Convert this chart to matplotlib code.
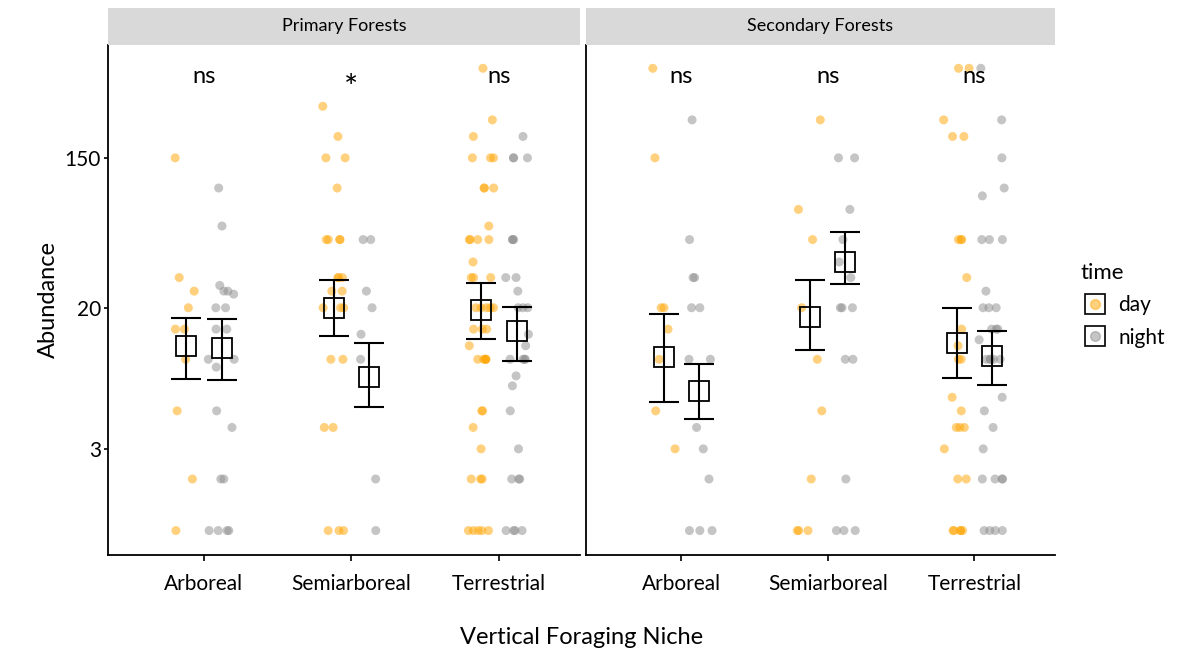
import matplotlib.pyplot as plt
import numpy as np
from matplotlib.lines import Line2D

plt.rcParams["font.family"] = ["Lato", "DejaVu Sans"]

niches = ["Arboreal", "Semiarboreal", "Terrestrial"]
forests = ["Primary Forests", "Secondary Forests"]
signif = [["ns", "*", "ns"], ["ns", "ns", "ns"]]

# raw abundances, [forest][niche]
day = [
    [[150, 30, 25, 20, 15, 15, 10, 5, 2, 1],
     [300, 200, 150, 150, 100, 50, 50, 50, 50, 30, 30, 30, 25, 25, 20, 20, 20, 10, 10, 4, 4, 1, 1, 1],
     [500, 250, 200, 150, 150, 150, 100, 100, 100, 60, 50, 50, 50, 50, 37, 30, 30, 30,
      20, 20, 20, 20, 20, 15, 15, 15, 12, 10, 10, 10, 10, 10, 5, 5, 4, 3, 2, 2, 2, 1, 1, 1, 1, 1]],
    [[500, 150, 20, 20, 15, 10, 5, 3],
     [250, 75, 50, 20, 10, 5, 2, 1, 1, 1],
     [500, 500, 250, 200, 200, 50, 50, 50, 30, 15, 12, 10, 10, 6, 5, 4, 4, 4, 3, 2, 2,
      1, 1, 1, 1, 1]],
]
night = [
    [[100, 60, 27, 25, 25, 24, 20, 20, 15, 15, 10, 10, 9, 5, 4, 2, 2, 1, 1, 1, 1],
     [50, 50, 25, 20, 14, 10, 2, 1],
     [200, 150, 150, 150, 50, 50, 50, 30, 30, 25, 20, 20, 20, 14, 12, 10, 10, 10, 10,
      8, 7, 5, 3, 2, 2, 2, 1, 1, 1, 1]],
    [[250, 50, 30, 30, 20, 20, 10, 10, 4, 3, 2, 1, 1, 1],
     [150, 150, 75, 50, 37, 30, 20, 20, 20, 10, 10, 2, 1, 1, 1],
     [500, 250, 150, 100, 90, 50, 50, 50, 25, 20, 20, 20, 15, 15, 15, 13, 10, 10, 10, 10,
      10, 6, 5, 4, 3, 2, 2, 2, 2, 1, 1, 1, 1]],
]
# group means with error bar limits (mean, low, high)
day_mean = [[(11.9, 7.7, 17.5), (20, 13.7, 29), (19.5, 13.2, 28)],
            [(10.3, 5.6, 18.4), (17.7, 11.3, 29), (12.4, 7.8, 20)]]
night_mean = [[(11.7, 7.6, 17.3), (7.9, 5.3, 12.4), (14.6, 9.8, 20.3)],
              [(6.5, 4.5, 9.4), (37, 27.5, 55), (10.5, 7.1, 14.7)]]

DAY_C, NIGHT_C = "#FFA500", "#8C8C8C"
rng = np.random.default_rng(3)

W, H = 1186, 654
fig = plt.figure(figsize=(W / 100, H / 100), dpi=100)
panels = [(108, 580), (586, 1055)]
top, bot = 45, 555

for f, (x0, x1) in enumerate(panels):
    ax = fig.add_axes([x0 / W, 1 - bot / H, (x1 - x0) / W, (bot - top) / H])
    ax.set_yscale("log")
    ax.set_ylim(0.72, 684)
    ax.set_xlim(0.35, 3.55)
    for k in range(3):
        xc = k + 1
        for vals, off, col in ((day[f][k], -0.12, DAY_C), (night[f][k], 0.12, NIGHT_C)):
            xs = xc + off + rng.uniform(-0.09, 0.09, len(vals))
            ax.scatter(xs, vals, s=42, color=col, alpha=0.5, edgecolors="none", zorder=2)
        for (m, lo, hi), off in ((day_mean[f][k], -0.12), (night_mean[f][k], 0.12)):
            ax.errorbar(xc + off, m, yerr=[[m - lo], [hi - m]], fmt="none", ecolor="black",
                        elinewidth=1.5, capsize=11, capthick=1.5, zorder=3)
            ax.plot(xc + off, m, marker="s", ms=15, mfc="none", mec="black", mew=1.3, zorder=4)
        sig = signif[f][k]
        ax.text(xc, 450 if sig == "ns" else 380, sig, ha="center", va="center",
                fontsize=17 if sig == "ns" else 24)
    ax.set_xticks([1, 2, 3])
    ax.set_xticklabels(niches, fontsize=15)
    ax.tick_params(axis="x", length=4, width=1.2, pad=10)
    for s in ("top", "right"):
        ax.spines[s].set_visible(False)
    ax.spines["bottom"].set_linewidth(1.3)
    ax.spines["left"].set_linewidth(1.3)
    ax.minorticks_off()
    if f == 0:
        ax.set_yticks([3, 20, 150])
        ax.set_yticklabels(["3", "20", "150"], fontsize=15)
        ax.tick_params(axis="y", length=3, width=1.2, pad=2)
        ax.set_ylabel("Abundance", fontsize=17)
    else:
        ax.set_yticks([])
    # facet strip
    sax = fig.add_axes([x0 / W, 1 - 45 / H, (x1 - x0) / W, 37 / H])
    sax.set_facecolor("#d9d9d9")
    sax.set_xticks([])
    sax.set_yticks([])
    for s in sax.spines.values():
        s.set_visible(False)
    sax.text(0.5, 0.5, forests[f], ha="center", va="center", fontsize=13,
             transform=sax.transAxes)

fig.text(582 / W, 1 - 638 / H, "Vertical Foraging Niche", ha="center", va="center", fontsize=17)

handles = [Line2D([], [], marker="o", ls="none", ms=7, color=DAY_C, alpha=0.5),
           Line2D([], [], marker="o", ls="none", ms=7, color=NIGHT_C, alpha=0.5)]
box = [Line2D([], [], marker="s", ls="none", ms=15, mfc="none", mec="black", mew=1.2)] * 2
leg = fig.legend([(b, h) for b, h in zip(box, handles)], ["day", "night"], title="time",
                 loc="upper left", bbox_to_anchor=(1066 / W, 1 - 248 / H), frameon=False,
                 fontsize=15, title_fontsize=16, handletextpad=0.4, handlelength=1.4,
                 labelspacing=0.6, alignment="left", borderpad=0.2)

fig.savefig("out.png", dpi=100)
